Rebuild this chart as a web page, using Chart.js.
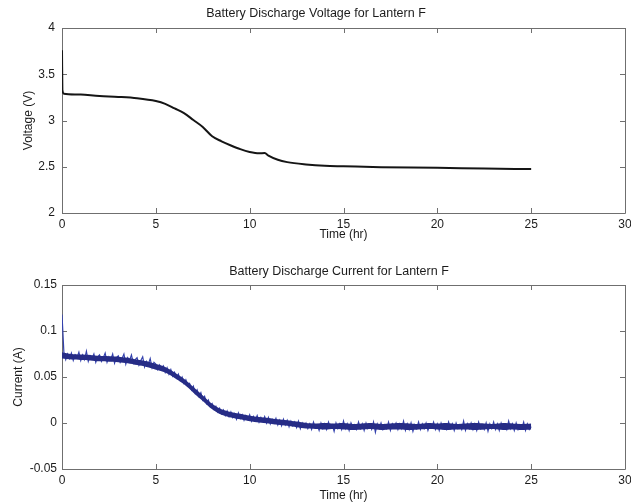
<!DOCTYPE html>
<html>
<head>
<meta charset="utf-8">
<script src="https://cdn.jsdelivr.net/npm/chart.js@4.4.1/dist/chart.umd.min.js"></script>
<style>
  html, body { margin: 0; padding: 0; background: #fff; }
  #wrap { position: relative; width: 631px; height: 503px; overflow: hidden; }
  .panel { position: absolute; left: 0; width: 631px; }
  #top { top: 0; height: 250px; }
  #bottom { top: 250px; height: 253px; }
</style>
</head>
<body>
<div id="wrap">
  <div class="panel" id="top"><canvas id="voltChart" width="631" height="250"></canvas></div>
  <div class="panel" id="bottom"><canvas id="currChart" width="631" height="253"></canvas></div>
</div>
<script>
// Battery discharge log for lantern F

const xTicks = [0, 5, 10, 15, 20, 25, 30];
const voltageTicks = [2, 2.5, 3, 3.5, 4];
const currentTicks = [-0.05, 0, 0.05, 0.1, 0.15];

// Voltage trace (hours, volts)
const voltageTime = [0, 0.02, 0.1, 1, 2, 3, 4, 5, 5.5, 6, 6.5, 7, 7.5, 8, 8.5, 9, 9.5, 10, 10.5, 10.8, 11, 11.5, 12, 13, 14, 15, 17, 20, 22.5, 25];
const voltageValues = [3.76, 3.33, 3.29, 3.28, 3.265, 3.255, 3.24, 3.21, 3.18, 3.13, 3.08, 3.005, 2.93, 2.83, 2.775, 2.73, 2.69, 2.66, 2.645, 2.648, 2.62, 2.575, 2.55, 2.525, 2.51, 2.505, 2.495, 2.49, 2.48, 2.475];

// Current samples, one every 0.1 h from 0 to 25 h (amps)
const currentStep = 0.1;
const currentValues = [
  0.118, 0.077, 0.069, 0.075, 0.070, 0.076, 0.068, 0.074, 0.071, 0.077,
  0.068, 0.074, 0.069, 0.078, 0.067, 0.073, 0.070, 0.075, 0.066, 0.072,
  0.074, 0.067, 0.071, 0.076, 0.066, 0.072, 0.069, 0.075, 0.065, 0.071,
  0.073, 0.066, 0.070, 0.075, 0.064, 0.071, 0.068, 0.074, 0.065, 0.069,
  0.071, 0.063, 0.068, 0.072, 0.061, 0.067, 0.064, 0.070, 0.060, 0.066,
  0.064, 0.058, 0.063, 0.059, 0.062, 0.055, 0.060, 0.053, 0.058, 0.051,
  0.055, 0.049, 0.053, 0.046, 0.050, 0.043, 0.047, 0.041, 0.043, 0.036,
  0.040, 0.032, 0.036, 0.029, 0.033, 0.025, 0.029, 0.021, 0.025, 0.018,
  0.021, 0.015, 0.018, 0.012, 0.016, 0.010, 0.014, 0.008, 0.013, 0.007,
  0.012, 0.006, 0.010, 0.004, 0.011, 0.005, 0.009, 0.003, 0.008, 0.004,
  0.009, 0.002, 0.007, 0.003, 0.008, 0.001, 0.006, 0.002, 0.007, 0.000,
  0.006, -0.001, 0.004, 0.000, 0.005, -0.002, 0.003, -0.003, 0.004, -0.002,
  0.003, -0.004, 0.002, -0.003, 0.001, -0.005, 0.002, -0.006, 0.000, -0.004,
  0.000, -0.006, -0.001, -0.007, 0.001, -0.005, -0.002, -0.008, 0.000, -0.006,
  -0.001, -0.007, 0.001, -0.005, -0.002, -0.009, 0.000, -0.006, -0.001, -0.007,
  0.002, -0.006, -0.001, -0.008, 0.000, -0.005, -0.002, -0.007, 0.001, -0.006,
  -0.001, -0.008, 0.000, -0.006, -0.002, -0.007, 0.001, -0.010, -0.001, -0.006,
  0.000, -0.007, -0.002, -0.006, 0.001, -0.008, -0.001, -0.005, 0.000, -0.007,
  -0.001, -0.006, 0.002, -0.008, -0.001, -0.007, 0.000, -0.009, -0.002, -0.006,
  0.001, -0.007, -0.001, -0.006, 0.000, -0.008, -0.002, -0.005, 0.001, -0.007,
  -0.001, -0.008, 0.000, -0.006, -0.002, -0.007, 0.001, -0.006, -0.001, -0.008,
  0.000, -0.006, -0.002, -0.007, 0.002, -0.008, -0.001, -0.006, 0.000, -0.007,
  -0.001, -0.008, 0.001, -0.006, -0.002, -0.007, 0.000, -0.009, -0.001, -0.006,
  0.001, -0.007, -0.001, -0.008, 0.000, -0.006, -0.002, -0.007, 0.002, -0.006,
  -0.001, -0.008, 0.000, -0.007, -0.002, -0.006, 0.001, -0.008, -0.001, -0.007,
  -0.004
];

// Dense core of the current trace, every 0.5 h (amps)
const bandStep = 0.5;
const currentUpper = [
  0.077, 0.075, 0.0745, 0.074, 0.073, 0.0725, 0.072, 0.071, 0.069, 0.067,
  0.064, 0.061, 0.055, 0.048, 0.039, 0.030, 0.021, 0.015, 0.012, 0.010,
  0.008, 0.0065, 0.0055, 0.004, 0.003, 0.0015, 0.000, -0.0005, 0.000, -0.0005,
  0.000, -0.001, -0.0005, 0.000, -0.001, -0.0005, 0.000, -0.0005, -0.001, 0.000,
  -0.0005, 0.000, -0.001, -0.0005, 0.000, -0.0005, -0.001, 0.000, -0.0005, -0.001,
  -0.0005
];
const currentLower = [
  0.070, 0.069, 0.0685, 0.068, 0.067, 0.0665, 0.066, 0.065, 0.063, 0.061,
  0.058, 0.055, 0.049, 0.042, 0.033, 0.024, 0.015, 0.009, 0.006, 0.004,
  0.002, 0.0005, -0.0005, -0.002, -0.003, -0.0045, -0.006, -0.0065, -0.007, -0.0065,
  -0.007, -0.0075, -0.007, -0.0065, -0.0075, -0.007, -0.007, -0.0075, -0.007, -0.0065,
  -0.007, -0.0075, -0.007, -0.007, -0.0075, -0.007, -0.0065, -0.0075, -0.007, -0.0075,
  -0.007
];

const FONT = '"Liberation Sans", Arial, sans-serif';
const TEXT = '#1b1b1b';
const AXIS = '#6f6f6f';

// MATLAB-style frame: box around the plot area with inward ticks on all four sides
const boxFrame = {
  id: 'boxFrame',
  beforeDatasetsDraw(chart) {
    const { ctx, chartArea: a, scales } = chart;
    const len = 5;
    ctx.save();
    ctx.strokeStyle = AXIS;
    ctx.lineWidth = 1;
    ctx.beginPath();
    ctx.rect(Math.round(a.left) + 0.5, Math.round(a.top) + 0.5,
             Math.round(a.right - a.left), Math.round(a.bottom - a.top));
    scales.x.ticks.forEach(t => {
      const px = Math.round(scales.x.getPixelForValue(t.value)) + 0.5;
      ctx.moveTo(px, a.bottom); ctx.lineTo(px, a.bottom - len);
      ctx.moveTo(px, a.top); ctx.lineTo(px, a.top + len);
    });
    scales.y.ticks.forEach(t => {
      const py = Math.round(scales.y.getPixelForValue(t.value)) + 0.5;
      ctx.moveTo(a.left, py); ctx.lineTo(a.left + len, py);
      ctx.moveTo(a.right, py); ctx.lineTo(a.right - len, py);
    });
    ctx.stroke();
    ctx.restore();
  }
};

// Plot title, placed at a given horizontal centre
const plotTitle = {
  id: 'plotTitle',
  afterDraw(chart, args, opts) {
    const { ctx } = chart;
    ctx.save();
    ctx.font = '12.5px ' + FONT;
    ctx.fillStyle = TEXT;
    ctx.textAlign = 'center';
    ctx.textBaseline = 'middle';
    ctx.fillText(opts.text, opts.x, opts.y);
    ctx.restore();
  }
};

// Plain numeric labels: 4, 3.5, 0.1, -0.05
const plainNumber = v => String(parseFloat(Number(v).toFixed(3)));

function makeOptions(cfg) {
  return {
    responsive: false,
    animation: false,
    events: [],
    layout: { padding: { left: 0, right: 6, top: cfg.top, bottom: 0 } },
    plugins: {
      legend: { display: false },
      tooltip: { enabled: false },
      plotTitle: { text: cfg.title, x: cfg.titleX, y: cfg.titleY }
    },
    scales: {
      x: {
        type: 'linear',
        min: 0, max: 30,
        afterBuildTicks: s => { s.ticks = xTicks.map(v => ({ value: v })); },
        afterFit: s => { s.height = cfg.xHeight; s.paddingLeft = 0; s.paddingRight = 0; },
        grid: { display: false, drawTicks: false },
        border: { display: false },
        ticks: { color: TEXT, font: { family: FONT, size: 12 }, padding: 4, maxRotation: 0, autoSkip: false, callback: plainNumber },
        title: { display: true, text: 'Time (hr)', color: TEXT, font: { family: FONT, size: 12 }, padding: { bottom: cfg.xTitlePad } }
      },
      y: {
        type: 'linear',
        min: cfg.yMin, max: cfg.yMax,
        afterBuildTicks: s => { s.ticks = cfg.yTicks.map(v => ({ value: v })); },
        afterFit: s => { s.width = 62; },
        grid: { display: false, drawTicks: false },
        border: { display: false },
        ticks: { color: TEXT, font: { family: FONT, size: 12 }, padding: cfg.yTickPad, autoSkip: false, callback: plainNumber },
        title: { display: true, text: cfg.yLabel, color: TEXT, font: { family: FONT, size: 12 }, padding: { top: cfg.yTitlePad } }
      }
    }
  };
}

new Chart(document.getElementById('voltChart'), {
  type: 'line',
  data: {
    datasets: [{
      data: voltageTime.map((t, i) => ({ x: t, y: voltageValues[i] })),
      borderColor: '#151515',
      borderWidth: 2,
      pointRadius: 0,
      cubicInterpolationMode: 'monotone',
      fill: false
    }]
  },
  options: makeOptions({
    title: 'Battery Discharge Voltage for Lantern F', titleX: 316, titleY: 14,
    top: 28, xHeight: 37, xTitlePad: 8,
    yMin: 2, yMax: 4, yTicks: voltageTicks, yLabel: 'Voltage (V)',
    yTickPad: 7, yTitlePad: 21
  }),
  plugins: [boxFrame, plotTitle]
});

new Chart(document.getElementById('currChart'), {
  type: 'line',
  data: {
    datasets: [
      {
        data: currentLower.map((v, i) => ({ x: i * bandStep, y: v })),
        borderWidth: 0,
        borderColor: 'rgba(0,0,0,0)',
        pointRadius: 0,
        tension: 0.3,
        fill: false
      },
      {
        data: currentUpper.map((v, i) => ({ x: i * bandStep, y: v })),
        borderWidth: 0,
        borderColor: 'rgba(0,0,0,0)',
        backgroundColor: '#262c86',
        pointRadius: 0,
        tension: 0.3,
        fill: '-1'
      },
      {
        data: currentValues.map((v, i) => ({ x: i * currentStep, y: v })),
        borderColor: '#3341ad',
        borderWidth: 1.2,
        pointRadius: 0,
        tension: 0,
        fill: false
      }
    ]
  },
  options: makeOptions({
    title: 'Battery Discharge Current for Lantern F', titleX: 339, titleY: 22,
    top: 35, xHeight: 34, xTitlePad: 0,
    yMin: -0.05, yMax: 0.15, yTicks: currentTicks, yLabel: 'Current (A)',
    yTickPad: 5, yTitlePad: 11
  }),
  plugins: [boxFrame, plotTitle]
});
</script>
</body>
</html>
